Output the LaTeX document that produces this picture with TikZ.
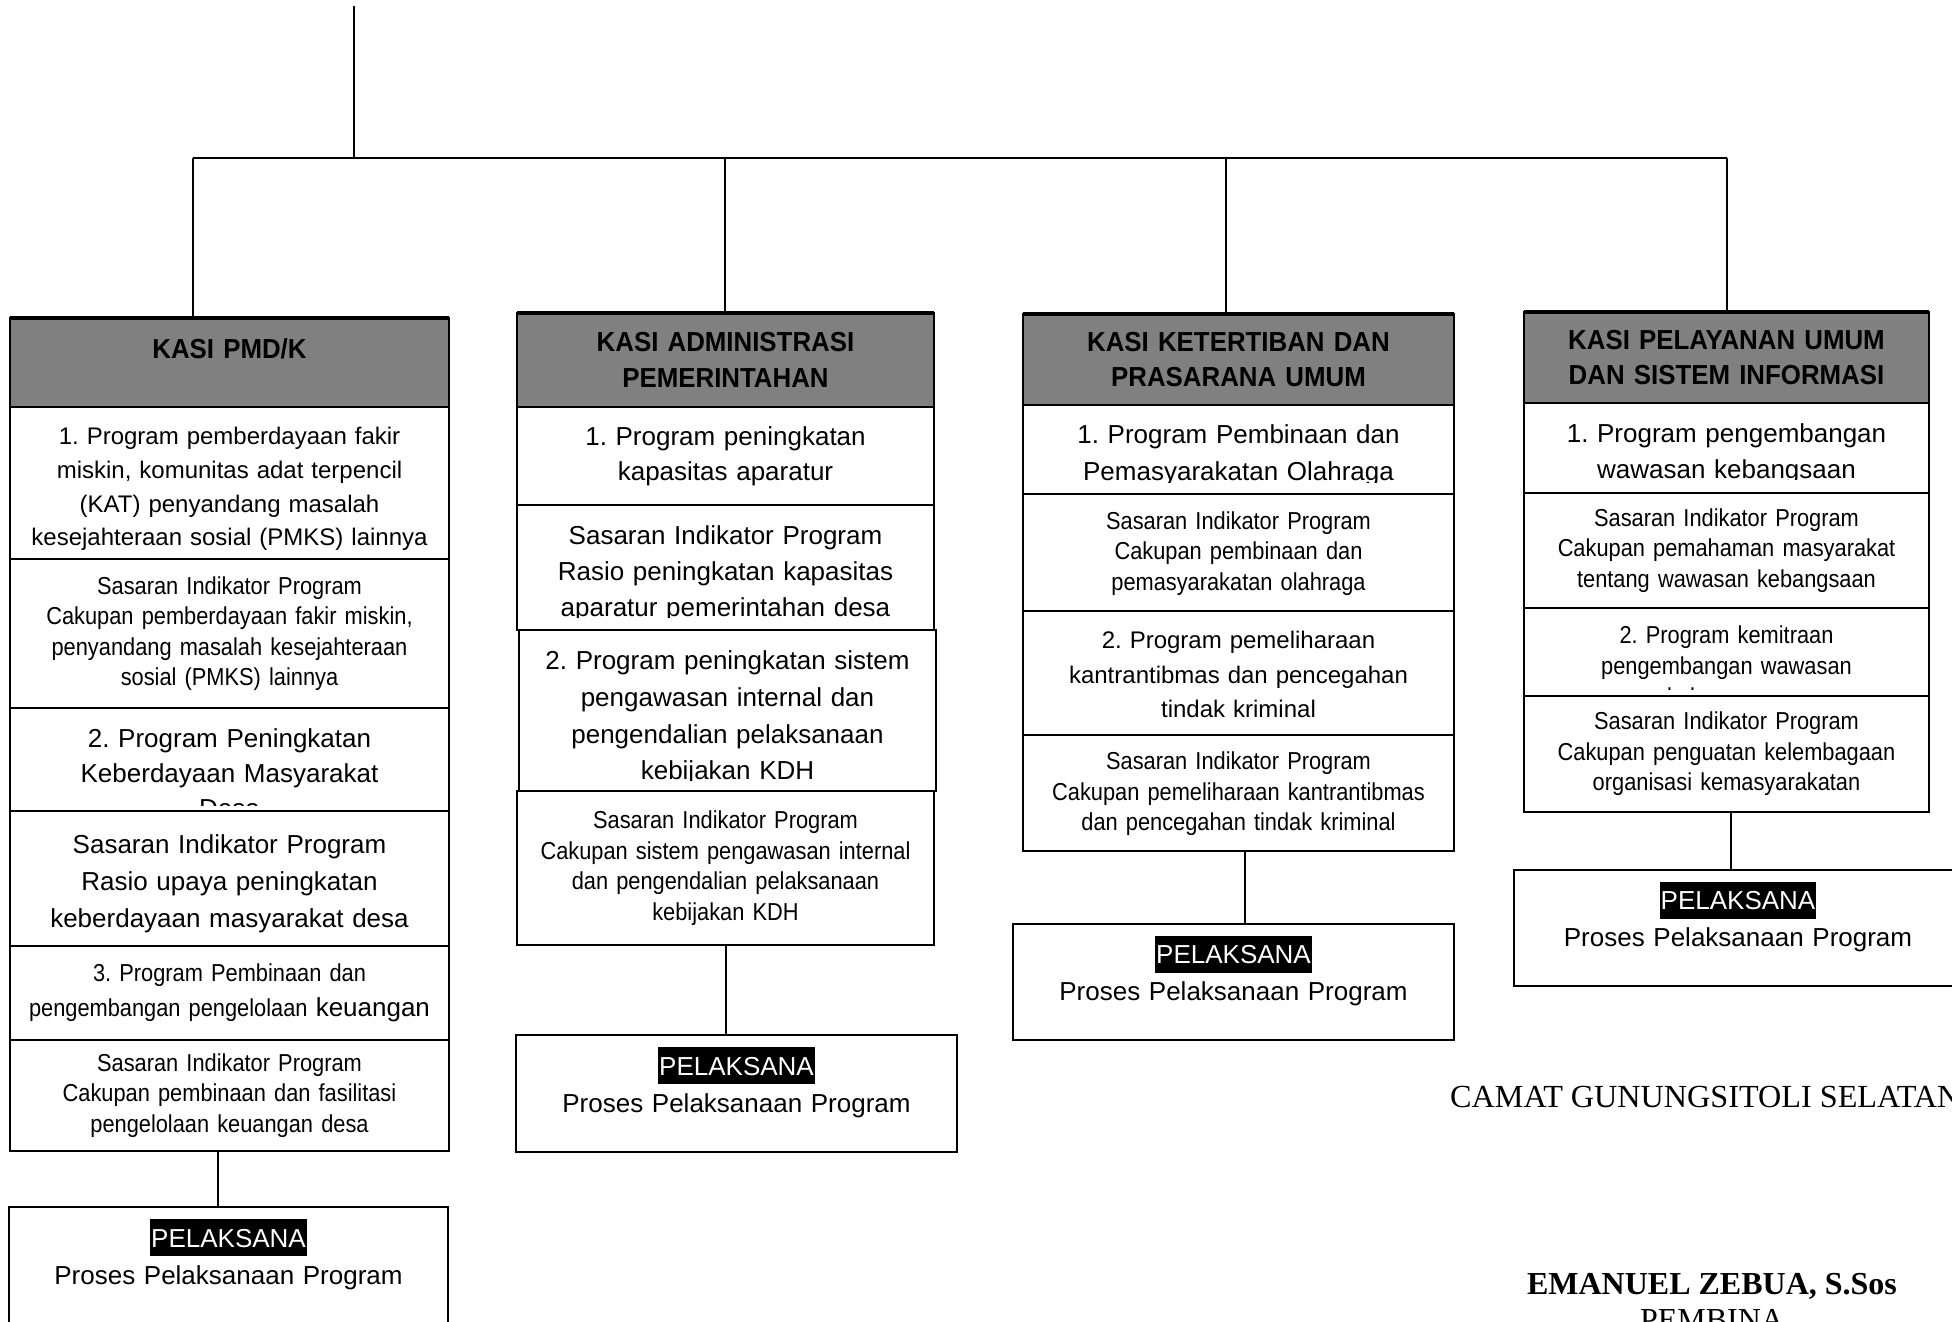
\documentclass[tikz,border=0pt]{standalone}
\usepackage{fontspec}
\setmainfont{Liberation Sans}
\newfontfamily\narrowfont[FakeStretch=0.89]{Liberation Sans}
\newfontfamily\headfont[FakeStretch=0.94]{Liberation Sans Bold}
\newfontfamily\timesfont{Liberation Serif}
\usetikzlibrary{positioning}
\frenchspacing

\newcommand{\blackmark}[1]{{\setlength{\fboxsep}{1pt}\colorbox{black}{\rule[-8pt]{0pt}{35pt}\textcolor{white}{#1}}}}

\tikzset{
  cell/.style={draw, line width=2pt, rectangle, inner xsep=4pt, inner ysep=0pt, outer sep=0pt, align=center},
  headbox/.style={cell, fill=gray, font=\headfont\fontsize{27.5}{35.5}\selectfont},
  bigtxt/.style={font=\fontsize{26}{35}\selectfont},
  narrowtxt/.style={font=\narrowfont\fontsize{24.5}{30.5}\selectfont},
  cuttxt/.style={anchor=north, align=center, inner sep=0pt, outer sep=0pt},
  execbox/.style={cell, font=\fontsize{26}{37}\selectfont, text depth=65pt},
  wire/.style={line width=1.3pt},
  col1/.style={text width=431pt}, col2/.style={text width=409pt},
  col3/.style={text width=423pt}, col4/.style={text width=397pt},
}

\begin{document}
\begin{tikzpicture}[x=1pt, y=-1pt]
\useasboundingbox (0,0) rectangle (1952,1322);

% KASI PMD/K
\node[headbox, col1, minimum height=89pt, anchor=north west, text depth=28pt] (h1) at (10,318) {KASI PMD/K};
\node[cell, col1, minimum height=152pt, below=0pt of h1, text height=29.6pt, font=\fontsize{24}{33.6}\selectfont] (a1) {1. Program pemberdayaan fakir\\ miskin, komunitas adat terpencil\\ (KAT) penyandang masalah\\ kesejahteraan sosial (PMKS) lainnya};
\node[cell, col1, narrowtxt, minimum height=149pt, below=0pt of a1] (a2) {Sasaran Indikator Program\\ Cakupan pemberdayaan fakir miskin,\\ penyandang masalah kesejahteraan\\ sosial (PMKS) lainnya};
\node[cell, col1, minimum height=103pt, below=0pt of a2] (a3) {};
\begin{scope}
  \clip (a3.north west) rectangle ([yshift=6pt]a3.south east);
  \node[cuttxt, col1, bigtxt, below=21pt of a3.north] (a3t) {2. Program Peningkatan\\ Keberdayaan Masyarakat\\ Desa};
\end{scope}
\node[cell, col1, minimum height=135pt, below=0pt of a3, text height=29pt, font=\fontsize{26}{37}\selectfont] (a4) {Sasaran Indikator Program\\ Rasio upaya peningkatan\\ keberdayaan masyarakat desa};
\node[cell, col1, minimum height=94pt, below=0pt of a4, font=\narrowfont\fontsize{24.5}{35}\selectfont] (a5) {3. Program Pembinaan dan\\ pengembangan pengelolaan {\normalfont\fontsize{26}{35}\selectfont keuangan}};
\node[cell, col1, narrowtxt, minimum height=111pt, below=0pt of a5] (a6) {Sasaran Indikator Program\\ Cakupan pembinaan dan fasilitasi\\ pengelolaan keuangan desa};
\node[execbox, col1, minimum height=117pt, anchor=north west] (p1) at (9,1207) {\blackmark{PELAKSANA}\\ Proses Pelaksanaan Program};
\draw[line width=2pt] ([xshift=-12pt]a6.south) -- ([xshift=-12pt]a6.south |- p1.north);

% KASI ADMINISTRASI PEMERINTAHAN
\node[headbox, col2, minimum height=94pt, anchor=north west] (h2) at (517,313) {KASI ADMINISTRASI\\ PEMERINTAHAN};
\node[cell, col2, bigtxt, minimum height=98pt, below=0pt of h2] (b1) {1. Program peningkatan\\ kapasitas aparatur};
\node[cell, col2, minimum height=125pt, below=0pt of b1] (b2) {};
\begin{scope}
  \clip (b2.north west) rectangle ([yshift=13pt]b2.south east);
  \node[cuttxt, col2, font=\fontsize{26}{36}\selectfont, below=21pt of b2.north] (b2t) {Sasaran Indikator Program\\ Rasio peningkatan kapasitas\\ aparatur pemerintahan desa};
\end{scope}
\node[cell, col2, minimum height=161pt, below=0pt of b2, xshift=2pt] (b3) {};
\begin{scope}
  \clip (b3.north west) rectangle ([yshift=11pt]b3.south east);
  \node[cuttxt, col2, font=\fontsize{26}{36.7}\selectfont, below=21pt of b3.north] (b3t) {2. Program peningkatan sistem\\ pengawasan internal dan\\ pengendalian pelaksanaan\\ kebijakan KDH};
\end{scope}
\node[cell, col2, narrowtxt, minimum height=154pt, below=0pt of b3, xshift=-2pt] (b4) {Sasaran Indikator Program\\ Cakupan sistem pengawasan internal\\ dan pengendalian pelaksanaan\\ kebijakan KDH};
\node[execbox, text width=433pt, minimum height=117pt, anchor=north west] (p2) at (516,1035) {\blackmark{PELAKSANA}\\ Proses Pelaksanaan Program};
\draw[line width=2pt] (b4.south) -- (b4.south |- p2.north);

% KASI KETERTIBAN DAN PRASARANA UMUM
\node[headbox, col3, minimum height=91pt, anchor=north west] (h3) at (1023,314) {KASI KETERTIBAN DAN\\ PRASARANA UMUM};
\node[cell, col3, minimum height=89pt, below=0pt of h3] (c1) {};
\begin{scope}
  \clip (c1.north west) rectangle ([yshift=12pt]c1.south east);
  \node[cuttxt, col3, font=\fontsize{26}{37}\selectfont, below=20pt of c1.north] (c1t) {1. Program Pembinaan dan\\ Pemasyarakatan Olahraga};
\end{scope}
\node[cell, col3, narrowtxt, minimum height=117pt, below=0pt of c1, text height=20pt] (c2) {Sasaran Indikator Program\\ Cakupan pembinaan dan\\ pemasyarakatan olahraga};
\node[cell, col3, minimum height=124pt, below=0pt of c2, text height=20.5pt, font=\fontsize{24}{34.5}\selectfont] (c3) {2. Program pemeliharaan\\ kantrantibmas dan pencegahan\\ tindak kriminal};
\node[cell, col3, narrowtxt, minimum height=116pt, below=0pt of c3, text height=20pt] (c4) {Sasaran Indikator Program\\ Cakupan pemeliharaan kantrantibmas\\ dan pencegahan tindak kriminal};
\node[execbox, text width=433pt, minimum height=116pt, anchor=north west] (p3) at (1013,924) {\blackmark{PELAKSANA}\\ Proses Pelaksanaan Program};
\draw[line width=2pt] ([xshift=6pt]c4.south) -- ([xshift=6pt]c4.south |- p3.north);

% KASI PELAYANAN UMUM DAN SISTEM INFORMASI
\node[headbox, col4, minimum height=91pt, anchor=north west] (h4) at (1524,312) {KASI PELAYANAN UMUM\\ DAN SISTEM INFORMASI};
\node[cell, col4, minimum height=90pt, below=0pt of h4] (d1) {};
\begin{scope}
  \clip (d1.north west) rectangle ([yshift=14pt]d1.south east);
  \node[cuttxt, col4, font=\fontsize{26}{36}\selectfont, below=21pt of d1.north] (d1t) {1. Program pengembangan\\ wawasan kebangsaan};
\end{scope}
\node[cell, col4, narrowtxt, minimum height=115pt, below=0pt of d1] (d2) {Sasaran Indikator Program\\ Cakupan pemahaman masyarakat\\ tentang wawasan kebangsaan};
\node[cell, col4, minimum height=88pt, below=0pt of d2] (d3) {};
\begin{scope}
  \clip (d3.north west) rectangle ([yshift=7pt]d3.south east);
  \node[cuttxt, col4, font=\narrowfont\fontsize{24.5}{31}\selectfont, below=18pt of d3.north] (d3t) {2. Program kemitraan\\ pengembangan wawasan\\ kebangsaan};
\end{scope}
\node[cell, col4, narrowtxt, minimum height=116pt, below=0pt of d3] (d4) {Sasaran Indikator Program\\ Cakupan penguatan kelembagaan\\ organisasi kemasyarakatan};
\node[execbox, text width=440pt, minimum height=116pt, anchor=north west] (p4) at (1514,870) {\blackmark{PELAKSANA}\\ Proses Pelaksanaan Program};
\draw[line width=2pt] ([xshift=4pt]d4.south) -- ([xshift=4pt]d4.south |- p4.north);

% heavier top edge of the heads
\foreach \i in {1,...,4}
  \draw[line width=3.5pt] (h\i.north west) -- (h\i.north east);

% lines from above
\coordinate (top) at (354,6);
\coordinate (j1) at (193,158);
\coordinate (j2) at (725,158);
\coordinate (j3) at (1226,158);
\coordinate (j4) at (1727,158);
\draw[wire] (top) -- (top |- j1);
\draw[line width=2.8pt] (j1) -- (j4);
\foreach \i in {1,...,4}
  \draw[wire] (j\i) -- (j\i |- h\i.north);

% signature
\node[anchor=base west, inner sep=0pt, font=\timesfont\fontsize{32.2}{36}\selectfont] (camat) at (1450,1107) {CAMAT GUNUNGSITOLI SELATAN};
\node[anchor=base, inner sep=0pt, font=\timesfont\bfseries\fontsize{32}{36}\selectfont] (nama) at (1712,1294) {EMANUEL ZEBUA, S.Sos};
\node[anchor=base, inner sep=0pt, font=\timesfont\fontsize{32}{36}\selectfont] (pangkat) at (1712,1330) {PEMBINA};
\end{tikzpicture}
\end{document}
